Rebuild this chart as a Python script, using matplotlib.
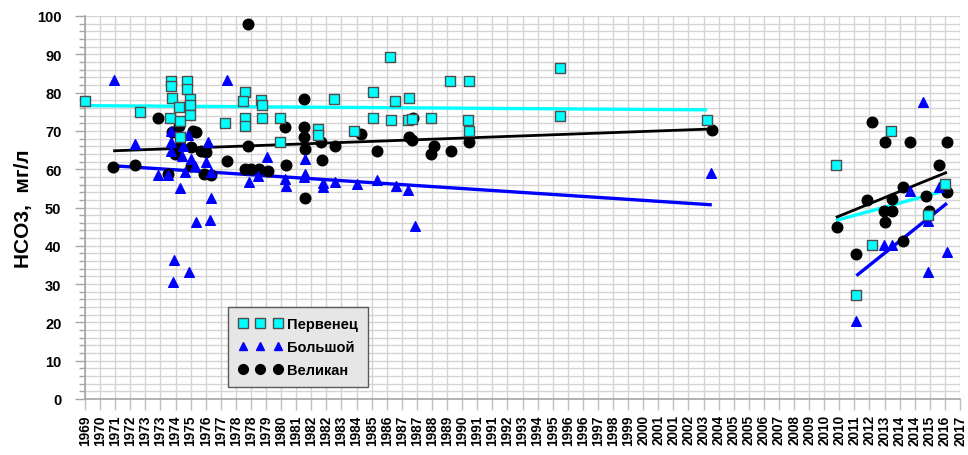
import numpy as np
import matplotlib
matplotlib.use("Agg")
import matplotlib.pyplot as plt
from matplotlib.lines import Line2D
from matplotlib.ticker import MultipleLocator, FixedLocator

plt.rcParams['font.family'] = ['Liberation Sans', 'DejaVu Sans']
plt.rcParams['font.weight'] = 'bold'

# --- Первенец (squares) ---
perv_year = [1969.85, 1972.83, 1974.51, 1974.51, 1974.58, 1974.96, 1974.45, 1975.03,
             1975.41, 1975.41, 1975.54, 1975.54, 1975.54, 1975.03, 1977.47, 1978.52,
             1978.46, 1978.52, 1978.52, 1979.42, 1979.48, 1979.45, 1980.45, 1980.45,
             1982.49, 1982.49, 1983.39, 1984.48, 1985.50, 1985.50, 1986.43, 1986.68,
             1986.46, 1987.46, 1987.42, 1987.63, 1988.68, 1989.68, 1990.74, 1990.67,
             1990.74, 1995.69, 1995.69, 2003.65, 2010.66, 2013.64, 2012.61, 2011.74,
             2015.68, 2016.58]
perv_val = [77.9, 75.0, 82.9, 81.6, 78.5, 76.3, 73.3, 72.7,
            82.9, 80.9, 78.3, 76.8, 74.2, 68.3, 72.1, 80.2,
            77.9, 73.4, 71.2, 78.1, 76.8, 73.3, 73.3, 67.2,
            70.5, 68.8, 78.3, 70.0, 80.1, 73.4, 89.2, 77.7,
            72.8, 78.6, 72.8, 73.1, 73.3, 83.1, 83.1, 72.8,
            70.1, 86.3, 74.0, 72.8, 61.2, 70.1, 40.2, 27.2,
            48.1, 56.1]

# --- Большой (triangles) ---
bolsh_year = [1971.44, 1972.56, 1973.82, 1974.36, 1974.55, 1974.55, 1974.55, 1974.69,
              1974.63, 1975.00, 1975.17, 1975.14, 1975.27, 1975.50, 1975.45, 1975.63,
              1975.81, 1975.90, 1976.53, 1976.44, 1976.71, 1976.66, 1976.71, 1977.58,
              1978.79, 1979.28, 1979.75, 1980.72, 1980.78, 1981.81, 1981.82, 1981.77,
              1982.76, 1982.76, 1983.43, 1984.65, 1985.74, 1986.77, 1987.42, 1987.78,
              2003.88, 2015.39, 2014.69, 2016.29, 2015.68, 2016.70, 2015.68, 2011.78,
              2012.65, 2013.28, 2013.73, 1975.00]
bolsh_val = [83.3, 66.6, 58.5, 58.5, 70.1, 67.0, 64.8, 36.4,
             30.6, 55.0, 66.1, 63.5, 59.2, 33.2, 68.8, 62.7,
             60.9, 46.1, 67.2, 61.8, 52.4, 46.7, 59.2, 83.3,
             56.6, 58.3, 63.3, 57.4, 55.7, 62.7, 58.7, 57.9,
             56.4, 55.4, 56.6, 56.1, 57.2, 55.7, 54.6, 45.3,
             58.9, 77.5, 54.4, 55.4, 46.6, 38.3, 33.2, 20.3,
             40.2, 40.2, 40.2, 68.5]

# --- Великан (circles) ---
velik_year = [1971.38, 1972.56, 1973.82, 1974.36, 1974.60, 1974.73, 1974.96, 1975.00,
              1975.72, 1975.90, 1975.63, 1976.17, 1976.44, 1976.30, 1976.71, 1975.63,
              1978.70, 1977.58, 1978.70, 1978.52, 1978.88, 1979.33, 1979.78, 1980.74,
              1980.78, 1981.73, 1981.77, 1981.77, 1981.81, 1981.82, 1982.70, 1982.73,
              1983.45, 1984.84, 1985.74, 1987.46, 1987.60, 1987.67, 1988.81, 1988.68,
              1989.77, 1990.74, 2003.92, 2012.61, 2013.31, 2014.69, 2016.70, 2016.29,
              2010.71, 2011.78, 2012.37, 2013.31, 2013.73, 2013.73, 2013.28, 2014.32,
              2014.32, 2015.58, 2015.71, 2016.70]
velik_val = [60.5, 61.2, 73.4, 58.7, 69.6, 64.0, 71.4, 66.1,
             70.1, 69.6, 65.7, 64.8, 64.4, 58.7, 58.6, 60.9,
             97.9, 62.2, 66.1, 60.0, 60.0, 60.0, 59.6, 71.1,
             61.2, 78.3, 71.1, 68.3, 65.3, 52.5, 67.2, 62.5,
             66.1, 69.2, 64.8, 68.3, 67.7, 73.3, 66.1, 64.0,
             64.8, 67.0, 70.2, 72.2, 67.0, 67.0, 67.0, 61.2,
             45.0, 37.9, 52.0, 46.1, 52.2, 49.2, 49.2, 55.3,
             41.2, 53.1, 49.2, 54.0]

# --- linear trends (two periods per series) ---
perv_trend_year = [[1969.85, 2003.65], [2010.66, 2016.60]]
perv_trend_val = [[76.6, 75.5], [46.6, 54.4]]
velik_trend_year = [[1971.38, 2003.92], [2010.66, 2016.70]]
velik_trend_val = [[64.8, 70.5], [47.4, 59.2]]
bolsh_trend_year = [[1971.38, 2003.92], [2011.78, 2016.70]]
bolsh_trend_val = [[60.9, 50.7], [32.2, 51.1]]

# --- date-axis tick labels ---
x_tick_labels = ['1969', '1970', '1971', '1972', '1973', '1973', '1974', '1975', '1976', '1977',
                 '1978', '1978', '1979', '1980', '1981', '1982', '1982', '1983', '1984', '1985',
                 '1986', '1987', '1987', '1988', '1989', '1990', '1991', '1991', '1992', '1993',
                 '1994', '1995', '1996', '1996', '1997', '1998', '1999', '2000', '2001', '2001',
                 '2002', '2003', '2004', '2005', '2005', '2006', '2007', '2008', '2009', '2010',
                 '2010', '2011', '2012', '2013', '2014', '2014', '2015', '2016', '2017']
axis_start = 1969.85
tick_step = 0.82

fig = plt.figure(figsize=(9.68, 4.56), dpi=100)
ax = fig.add_axes([85 / 968, 1 - 400 / 456, 875 / 968, 383 / 456])

tick_pos = axis_start + tick_step * np.arange(len(x_tick_labels))
ax.set_xlim(axis_start, tick_pos[-1])
ax.set_ylim(0, 100)

grid_c = '#d4d4d4'
ax.xaxis.set_major_locator(FixedLocator(tick_pos))
ax.set_xticklabels(x_tick_labels, rotation=90, fontsize=9.8, fontweight='bold')
ax.yaxis.set_major_locator(MultipleLocator(10))
ax.yaxis.set_minor_locator(MultipleLocator(2))
ax.tick_params(axis='y', which='major', length=7, width=1, color='#a6a6a6',
               labelsize=10.5, pad=10)
ax.tick_params(axis='y', which='minor', length=4, width=1, color='#a6a6a6')
ax.tick_params(axis='x', which='major', length=8, width=1, color='#bfbfbf', pad=3)
for lbl in ax.get_yticklabels():
    lbl.set_fontweight('bold')

ax.grid(True, which='both', axis='y', color=grid_c, linewidth=1, zorder=0)
ax.grid(True, which='major', axis='x', color=grid_c, linewidth=1, zorder=0)
ax.set_axisbelow(True)
for side in ['top', 'right']:
    ax.spines[side].set_visible(False)
for side in ['left', 'bottom']:
    ax.spines[side].set_color('#a6a6a6')
    ax.spines[side].set_linewidth(1.2)

# trend lines
for yr, vl in zip(perv_trend_year, perv_trend_val):
    ax.plot(yr, vl, color='#00ffff', lw=2.4, zorder=2, solid_capstyle='butt')
for yr, vl in zip(velik_trend_year, velik_trend_val):
    ax.plot(yr, vl, color='black', lw=2.0, zorder=2, solid_capstyle='butt')
for yr, vl in zip(bolsh_trend_year, bolsh_trend_val):
    ax.plot(yr, vl, color='#0000ff', lw=2.4, zorder=2, solid_capstyle='butt')

# data points
ax.scatter(velik_year, velik_val, marker='o', s=58, color='black', zorder=3,
           clip_on=False)
ax.scatter(bolsh_year, bolsh_val, marker='^', s=48, color='#0000ff', zorder=4,
           clip_on=False)
ax.scatter(perv_year, perv_val, marker='s', s=62, facecolor='#00ffff',
           edgecolor='#4d4d4d', linewidth=1.0, zorder=5, clip_on=False)

ax.set_ylabel('HCO3,  мг/л', fontsize=15, fontweight='bold', labelpad=3)

handles = [
    Line2D([], [], ls='none', marker='s', markersize=6.5, markerfacecolor='#00ffff',
           markeredgecolor='#4d4d4d', markeredgewidth=1.0),
    Line2D([], [], ls='none', marker='^', markersize=5.5, color='#0000ff'),
    Line2D([], [], ls='none', marker='o', markersize=7, color='black'),
]
leg = ax.legend(handles, ['Первенец', 'Большой', 'Великан'], numpoints=3,
                loc='lower left', bbox_to_anchor=(228 / 968, 1 - 388 / 456),
                bbox_transform=fig.transFigure, fancybox=False, framealpha=1,
                facecolor='#e6e6e6', edgecolor='#5a5a5a',
                prop={'weight': 'bold', 'size': 10.5}, handlelength=3.0,
                handletextpad=0.35, borderpad=0.7, labelspacing=0.6,
                borderaxespad=0)
leg.get_frame().set_linewidth(1.0)

fig.savefig('out.png', dpi=100)
